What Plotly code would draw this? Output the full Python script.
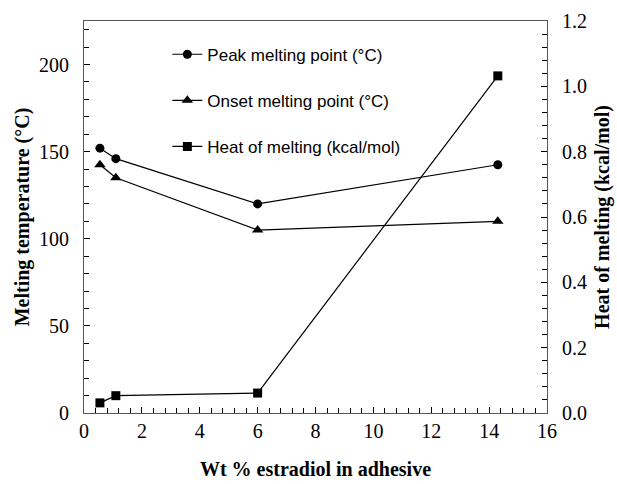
import plotly.graph_objects as go

wt_pct = [0.55, 1.1, 6.0, 14.3]
peak_mp = [152, 146, 120, 142.5]
onset_mp = [142.5, 135, 105, 110]
heat_melt = [0.031, 0.053, 0.061, 1.032]

serif = "Liberation Serif, Times New Roman, serif"
sans = "Liberation Sans, Arial, sans-serif"
gap = "\u00a0\u00a0"

fig = go.Figure()
line = dict(color="black", width=1.2)
fig.add_trace(go.Scatter(x=wt_pct, y=peak_mp, mode="lines+markers", name="Peak melting point (°C)",
                         line=line, marker=dict(symbol="circle", size=9, color="black"),
                         legendgroup="a"))
fig.add_trace(go.Scatter(x=wt_pct, y=onset_mp, mode="lines+markers", name="Onset melting point (°C)",
                         line=line, marker=dict(symbol="triangle-up", size=10, color="black"),
                         legendgroup="b"))
fig.add_trace(go.Scatter(x=wt_pct, y=heat_melt, mode="lines+markers", name="Heat of melting (kcal/mol)",
                         line=line, marker=dict(symbol="square", size=9, color="black"),
                         legendgroup="c", yaxis="y2"))

axis_common = dict(showline=True, linecolor="#555", linewidth=1, ticks="inside", ticklen=6,
                   tickwidth=1, tickcolor="black", showgrid=False, zeroline=False,
                   tickmode="linear", tick0=0,
                   tickfont=dict(family=serif, size=20, color="black"))
title_font = dict(family=serif, size=20, color="black")

fig.update_layout(
    template="simple_white",
    width=617, height=484,
    margin=dict(l=84, r=70, t=21, b=71, autoexpand=False),
    plot_bgcolor="white", paper_bgcolor="white",
    showlegend=True,
    legend=dict(x=0.18, y=0.96, xanchor="left", yanchor="top", bgcolor="rgba(0,0,0,0)",
                font=dict(family=sans, size=17, color="black"), tracegroupgap=21),
    xaxis=dict(range=[0, 16], dtick=2, mirror=True,
               minor=dict(dtick=0.4, tick0=0, ticks="inside", ticklen=5, tickcolor="black", tickwidth=1),
               title=dict(text="<b>Wt % estradiol in adhesive</b>", standoff=20, font=title_font),
               **axis_common),
    yaxis=dict(range=[0, 225], dtick=50, ticksuffix=gap,
               minor=dict(dtick=10, tick0=0, ticks="inside", ticklen=5, tickcolor="black", tickwidth=1),
               title=dict(text="<b>Melting temperature (°C)</b>", standoff=4, font=title_font),
               **axis_common),
    yaxis2=dict(range=[0, 1.2], dtick=0.2, tickformat=".1f", tickprefix=gap,
                overlaying="y", side="right",
                minor=dict(dtick=0.04, tick0=0, ticks="inside", ticklen=5, tickcolor="black", tickwidth=1),
                title=dict(text="<b>Heat of melting (kcal/mol)</b>", standoff=8, font=title_font),
                **axis_common),
)

fig.write_html("out.html")
